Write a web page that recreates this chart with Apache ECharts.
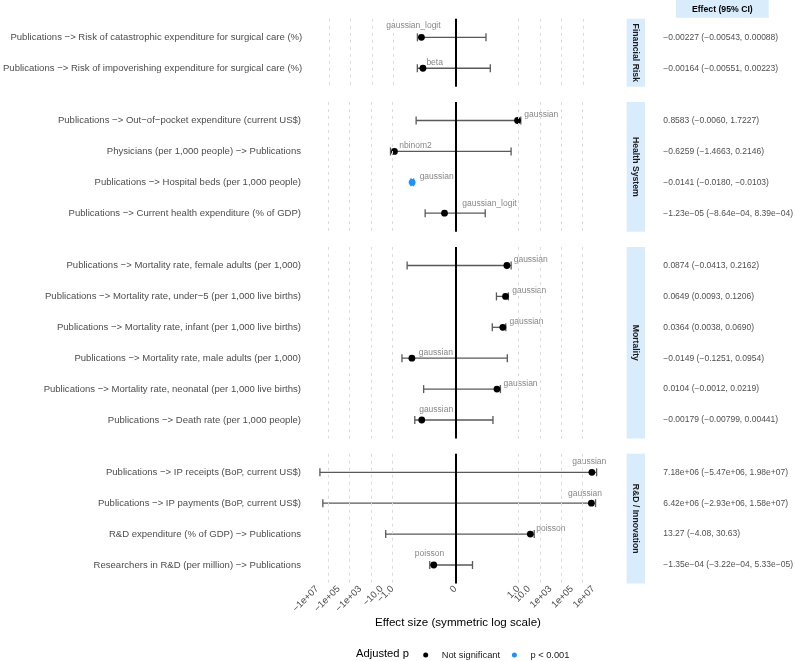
<!DOCTYPE html>
<html>
<head>
<meta charset="utf-8">
<script src="https://cdn.jsdelivr.net/npm/echarts@6/dist/echarts.min.js"></script>
<style>
  html, body { margin: 0; padding: 0; background: #fff; }
  #main { width: 795px; height: 661px; }
</style>
</head>
<body>
<div id="main"></div>
<script>
// facets, top to bottom
const panels = ['Financial Risk', 'Health System', 'Mortality', 'R&D / Innovation'];
const rowPanel = [0, 0, 1, 1, 1, 1, 2, 2, 2, 2, 2, 2, 3, 3, 3, 3];

const rowLabels = [
  'Publications \u2212> Risk of catastrophic expenditure for surgical care (%)',
  'Publications \u2212> Risk of impoverishing expenditure for surgical care (%)',
  'Publications \u2212> Out\u2212of\u2212pocket expenditure (current US$)',
  'Physicians (per 1,000 people) \u2212> Publications',
  'Publications \u2212> Hospital beds (per 1,000 people)',
  'Publications \u2212> Current health expenditure (% of GDP)',
  'Publications \u2212> Mortality rate, female adults (per 1,000)',
  'Publications \u2212> Mortality rate, under\u22125 (per 1,000 live births)',
  'Publications \u2212> Mortality rate, infant (per 1,000 live births)',
  'Publications \u2212> Mortality rate, male adults (per 1,000)',
  'Publications \u2212> Mortality rate, neonatal (per 1,000 live births)',
  'Publications \u2212> Death rate (per 1,000 people)',
  'Publications \u2212> IP receipts (BoP, current US$)',
  'Publications \u2212> IP payments (BoP, current US$)',
  'R&D expenditure (% of GDP) \u2212> Publications',
  'Researchers in R&D (per million) \u2212> Publications'
];

const estimates = [-0.00227, -0.00164, 0.8583, -0.6259, -0.0141, -1.23e-5, 0.0874, 0.0649, 0.0364, -0.0149, 0.0104, -0.00179, 7.18e6, 6.42e6, 13.27, -1.35e-4];
const lower = [-0.00543, -0.00551, -0.0060, -1.4663, -0.0180, -8.64e-4, -0.0413, 0.0093, 0.0038, -0.1251, -0.0012, -0.00799, -5.47e6, -2.93e6, -4.08, -3.22e-4];
const upper = [0.00088, 0.00223, 1.7227, 0.2146, -0.0103, 8.39e-4, 0.2162, 0.1206, 0.0690, 0.0954, 0.0219, 0.00441, 1.98e7, 1.58e7, 30.63, 5.33e-5];
const models = ['gaussian_logit', 'beta', 'gaussian', 'nbinom2', 'gaussian', 'gaussian_logit', 'gaussian', 'gaussian', 'gaussian', 'gaussian', 'gaussian', 'gaussian', 'gaussian', 'gaussian', 'poisson', 'poisson'];
const significant = [false, false, false, false, true, false, false, false, false, false, false, false, false, false, false, false];

const effectText = [
  '\u22120.00227 (\u22120.00543, 0.00088)',
  '\u22120.00164 (\u22120.00551, 0.00223)',
  '0.8583 (\u22120.0060, 1.7227)',
  '\u22120.6259 (\u22121.4663, 0.2146)',
  '\u22120.0141 (\u22120.0180, \u22120.0103)',
  '\u22121.23e\u221205 (\u22128.64e\u221204, 8.39e\u221204)',
  '0.0874 (\u22120.0413, 0.2162)',
  '0.0649 (0.0093, 0.1206)',
  '0.0364 (0.0038, 0.0690)',
  '\u22120.0149 (\u22120.1251, 0.0954)',
  '0.0104 (\u22120.0012, 0.0219)',
  '\u22120.00179 (\u22120.00799, 0.00441)',
  '7.18e+06 (\u22125.47e+06, 1.98e+07)',
  '6.42e+06 (\u22122.93e+06, 1.58e+07)',
  '13.27 (\u22124.08, 30.63)',
  '\u22121.35e\u221204 (\u22123.22e\u221204, 5.33e\u221205)'
];

// x axis breaks and labels, dashed grid positions
const tickValues = [-1e7, -1e5, -1e3, -10, -1, 0, 1, 10, 1e3, 1e5, 1e7];
const tickLabels = ['\u22121e+07', '\u22121e+05', '\u22121e+03', '\u221210.0', '\u22121.0', '0', '1.0', '10.0', '1e+03', '1e+05', '1e+07'];
const gridValues = [-1e6, -1e4, -100, -1, 1, 100, 1e4, 1e6];

// label nudges (px) for the model names, like ggrepel placed them
const labelNudge = [[-8, -11.6], [11.7, -6], [23.7, -5.7], [21, -6], [24.5, -5.6], [45, -10],
  [23.8, -5.7], [23.7, -5.7], [23.7, -5.6], [24, -5.3], [23.6, -5.7], [14.4, -10],
  [-2.6, -10.6], [-6.4, -10], [20.6, -5.7], [-4.3, -11.7]];

// symmetric log transform
const C = 1.36e-6;
function symlog(v) {
  return Math.sign(v) * Math.log10(1 + Math.abs(v) / C);
}

const FONT = '"Liberation Sans", Arial, Helvetica, sans-serif';
const STRIP = '#d8ecfb';
const BLUE = '#1e90ff';

// layout
const rowH = 30.9, pad = 0.6, gap = 15.2, top0 = 18.8;
const plotLeft = 306, plotWidth = 303.9;
const xMin = -13.9, xMax = 14.4;
const stripX = 626.7, stripW = 18.3;
const tableX = 663.3;

const grids = [], xAxes = [], yAxes = [], series = [], graphics = [];
let y0 = top0;
panels.forEach((name, p) => {
  const idx = [];
  rowPanel.forEach((rp, i) => { if (rp === p) idx.push(i); });
  const n = idx.length;
  const h = (n - 1 + 2 * pad) * rowH;
  const last = p === panels.length - 1;

  // plot panel
  grids.push({ left: plotLeft, top: y0, width: plotWidth, height: h });
  xAxes.push({
    type: 'value', gridIndex: 2 * p, min: xMin, max: xMax,
    axisLine: { show: false }, axisTick: { show: false }, splitLine: { show: false },
    axisLabel: last ? {
      show: true, rotate: 45, margin: 4, fontSize: 9.5, color: '#4d4d4d', fontFamily: FONT,
      customValues: tickValues.map(symlog),
      formatter: (v) => {
        let best = 0;
        tickValues.forEach((t, k) => { if (Math.abs(symlog(t) - v) < Math.abs(symlog(tickValues[best]) - v)) best = k; });
        return tickLabels[best];
      }
    } : { show: false },
    name: last ? 'Effect size (symmetric log scale)' : '',
    nameLocation: 'middle', nameGap: 31,
    nameTextStyle: { fontSize: 11.6, color: '#000', fontFamily: FONT }
  });
  yAxes.push({
    type: 'value', gridIndex: 2 * p, min: -pad, max: n - 1 + pad, inverse: true,
    axisLine: { show: false }, axisTick: { show: false }, splitLine: { show: false },
    axisLabel: {
      show: true, margin: 5, fontSize: 9.55, color: '#4d4d4d', fontFamily: FONT,
      customValues: idx.map((_, k) => k),
      formatter: (v) => rowLabels[idx[Math.round(v)]]
    }
  });

  // table panel
  grids.push({ left: tableX, top: y0, width: 120, height: h });
  xAxes.push({ type: 'value', gridIndex: 2 * p + 1, min: 0, max: 1, show: false });
  yAxes.push({ type: 'value', gridIndex: 2 * p + 1, min: -pad, max: n - 1 + pad, inverse: true, show: false });

  const ax = 2 * p;
  // dashed grid lines and the zero line
  series.push({
    type: 'line', xAxisIndex: ax, yAxisIndex: ax, data: [], silent: true, z: 1,
    markLine: {
      silent: true, symbol: ['none', 'none'], label: { show: false }, animation: false,
      data: gridValues.map(v => ({ xAxis: symlog(v), lineStyle: { color: '#dcdcdc', width: 1, type: [3, 4] } }))
        .concat([{ xAxis: 0, lineStyle: { color: '#000', width: 2, type: 'solid' } }])
    }
  });
  // error bars
  series.push({
    type: 'custom', xAxisIndex: ax, yAxisIndex: ax, z: 2, silent: true,
    data: idx.map((i, k) => [symlog(lower[i]), k, symlog(upper[i]), significant[i] ? 1 : 0]),
    encode: { x: [0, 2], y: 1 },
    renderItem: (params, api) => {
      const yv = api.value(1);
      const a = api.coord([api.value(0), yv]);
      const b = api.coord([api.value(2), yv]);
      const c = 4;
      const style = { stroke: api.value(3) ? BLUE : '#595959', lineWidth: 1.3, fill: null };
      return {
        type: 'group', children: [
          { type: 'line', shape: { x1: a[0], y1: a[1], x2: b[0], y2: b[1] }, style },
          { type: 'line', shape: { x1: a[0], y1: a[1] - c, x2: a[0], y2: a[1] + c }, style },
          { type: 'line', shape: { x1: b[0], y1: b[1] - c, x2: b[0], y2: b[1] + c }, style }
        ]
      };
    }
  });
  // point estimates, split by significance
  [['Not significant', false, '#000'], ['p < 0.001', true, BLUE]].forEach(([sname, sig, col]) => {
    series.push({
      type: 'scatter', name: sname, xAxisIndex: ax, yAxisIndex: ax, z: 3,
      symbolSize: 6.8, itemStyle: { color: col, opacity: 1 },
      data: idx.map((i, k) => ({ i, k })).filter(o => significant[o.i] === sig).map(o => ({
        value: [symlog(estimates[o.i]), o.k],
        label: {
          show: true, position: 'inside', offset: labelNudge[o.i], formatter: models[o.i],
          fontSize: 8.5, color: '#878787', fontFamily: FONT
        }
      }))
    });
  });
  // effect table text
  series.push({
    type: 'scatter', xAxisIndex: 2 * p + 1, yAxisIndex: 2 * p + 1, symbolSize: 0, silent: true,
    data: idx.map((i, k) => ({
      value: [0, k],
      label: { show: true, position: 'right', distance: 0, formatter: effectText[i], fontSize: 8.5, color: '#1a1a1a', fontFamily: FONT }
    }))
  });

  // facet strip
  graphics.push({ type: 'rect', shape: { x: stripX, y: y0, width: stripW, height: h }, style: { fill: STRIP }, silent: true });
  graphics.push({
    type: 'text', x: stripX + stripW / 2, y: y0 + h / 2, rotation: -Math.PI / 2, silent: true,
    style: { text: name, align: 'center', verticalAlign: 'middle', fontWeight: 'bold', fontSize: 8.7, fill: '#1a1a1a', fontFamily: FONT }
  });

  y0 += h + gap;
});

// table header
graphics.push({ type: 'rect', shape: { x: 676, y: 0, width: 92.7, height: 17.7 }, style: { fill: STRIP }, silent: true });
graphics.push({
  type: 'text', x: 722.3, y: 9.2, silent: true,
  style: { text: 'Effect (95% CI)', align: 'center', verticalAlign: 'middle', fontWeight: 'bold', fontSize: 8.7, fill: '#000', fontFamily: FONT }
});
// legend title
graphics.push({
  type: 'text', x: 356, y: 654, silent: true,
  style: { text: 'Adjusted p', align: 'left', verticalAlign: 'middle', fontSize: 11.2, fill: '#000', fontFamily: FONT }
});

const chart = echarts.init(document.getElementById('main'), null, { renderer: 'canvas' });
chart.setOption({
  animation: false,
  backgroundColor: '#fff',
  textStyle: { fontFamily: FONT },
  grid: grids,
  xAxis: xAxes,
  yAxis: yAxes,
  legend: {
    data: ['Not significant', 'p < 0.001'],
    left: 418.2, top: 645.5, padding: 5,
    icon: 'circle', itemWidth: 5, itemHeight: 5, itemGap: 11.8,
    selectedMode: false,
    textStyle: { fontSize: 9.3, color: '#1a1a1a', fontFamily: FONT, padding: [0, 0, 0, 8.5] }
  },
  graphic: graphics,
  series: series
});
</script>
</body>
</html>
